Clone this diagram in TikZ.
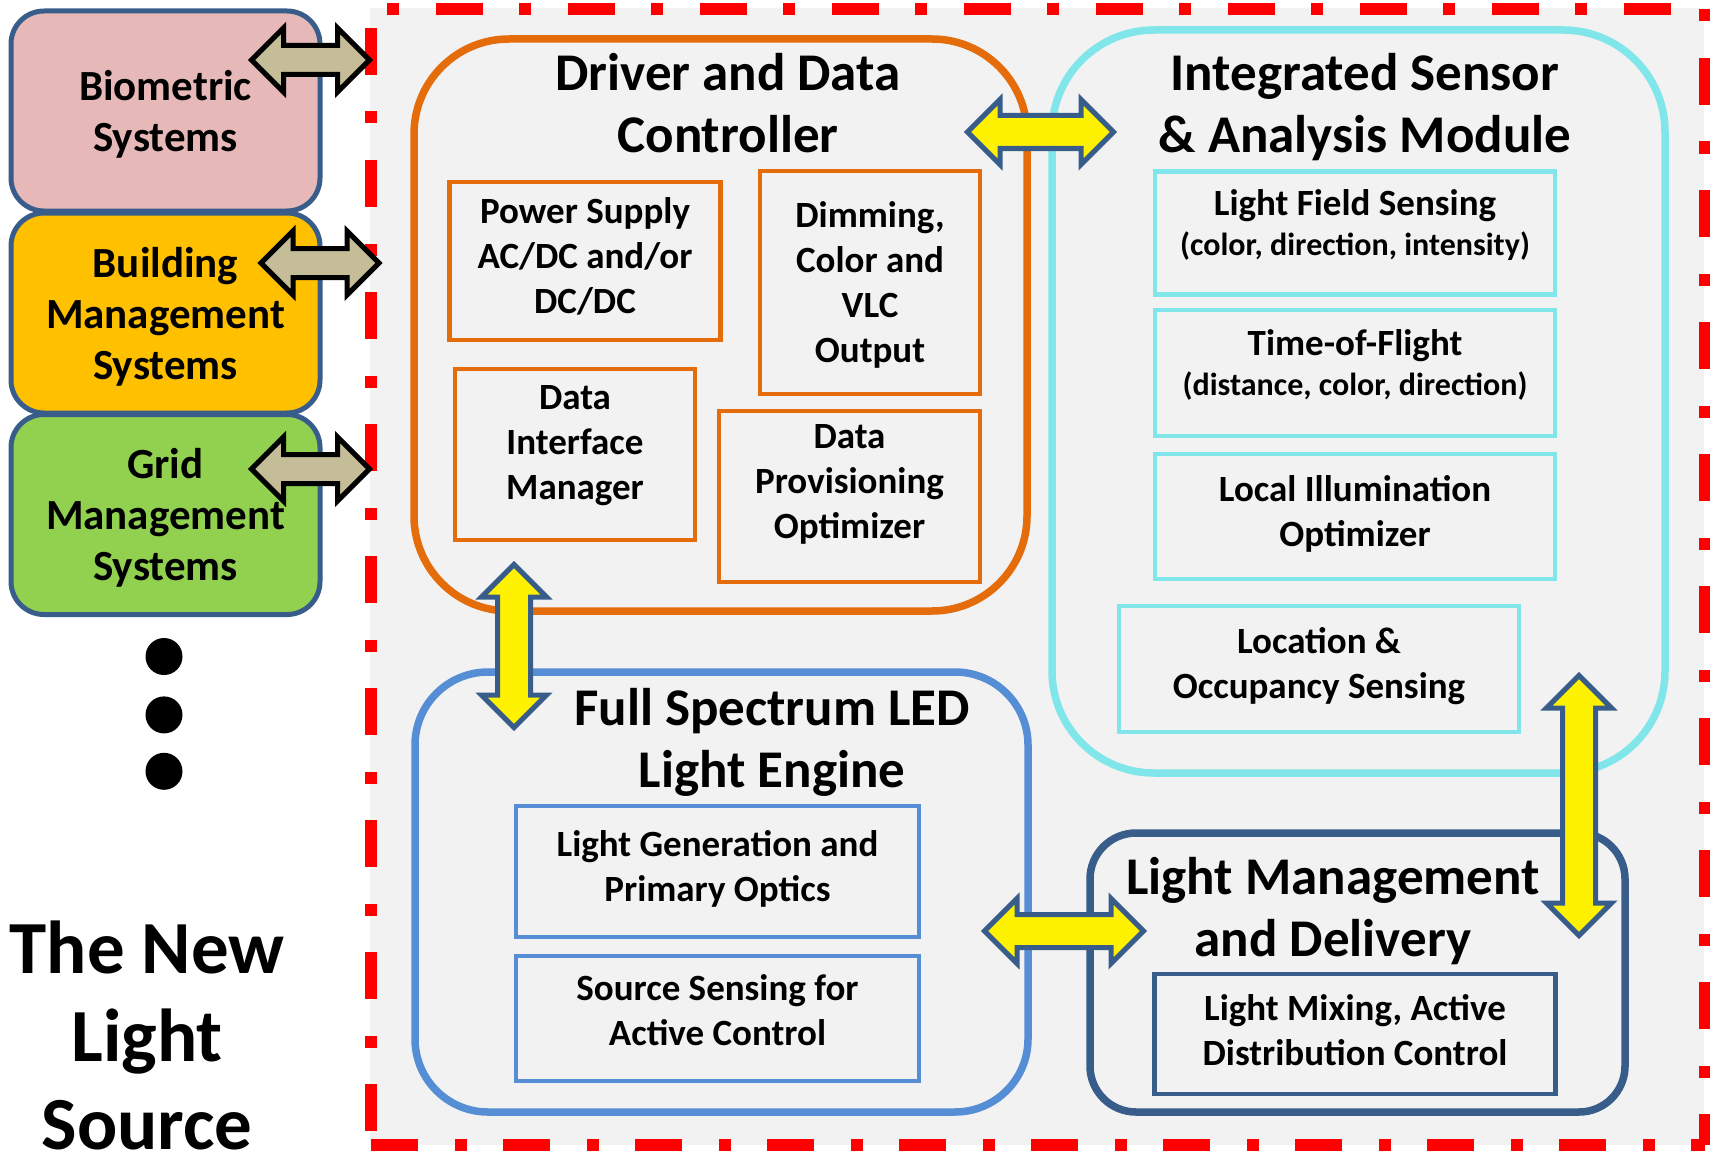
\documentclass[tikz,border=0pt]{standalone}
\usepackage{fontspec}
\setmainfont{Carlito}
\usepackage{tikz}
\usetikzlibrary{arrows,positioning,shapes}

\definecolor{drvorange}{HTML}{E46C0A}
\definecolor{sencyan}{HTML}{80E6EA}
\definecolor{ledblue}{HTML}{558ED5}
\definecolor{navy}{HTML}{385D8A}
\definecolor{panel}{HTML}{F2F2F2}
\definecolor{khaki}{HTML}{C4BD97}
\definecolor{biopink}{HTML}{E6B9B8}
\definecolor{bmsorange}{HTML}{FFC000}
\definecolor{gmsgreen}{HTML}{92D050}

% smaller second line in the sensing blocks
\newcommand{\subline}[1]{{\fontsize{32}{40}\selectfont #1}}

\begin{document}
\begin{tikzpicture}[x=1pt, y=-1pt,
    every node/.style={font=\bfseries, align=center, inner sep=0pt},
    sys/.style={draw=navy, line width=5pt, rounded corners=33pt,
        minimum width=309pt, minimum height=200pt, text depth=0pt,
        font=\bfseries\fontsize{43}{51}\selectfont},
    dot/.style={circle, fill=black, minimum size=37pt},
    module/.style={line width=7.5pt, fill=panel},
    title/.style={text depth=0pt, font=\bfseries\fontsize{53}{62}\selectfont},
    part/.style={draw, line width=4.5pt, fill=panel,
        font=\bfseries\fontsize{37}{45}\selectfont},
    sense/.style={part, draw=sencyan, minimum width=400pt},
    link/.style={double arrow, double arrow head extend=16pt, minimum width=60pt,
        inner ysep=14pt, line width=5pt, draw=navy, fill=yellow},
    ext/.style={double arrow, double arrow head extend=17.5pt, minimum width=59pt,
        inner ysep=12pt, minimum height=118pt, line width=5pt, draw=black, fill=khaki},
    border/.style={red, line width=12pt,
        dash pattern=on 47pt off 36.5pt on 12pt off 36.5pt}
    ]
\useasboundingbox (0,0) rectangle (1710,1153);

% dash-dotted frame round the light source
\fill[panel] (370,8) rectangle (1704,1145);
\draw[border] (371,1145) -- (1705,1145);
\draw[border, dash phase=67.5pt] (371,9) -- (1705,9);
\draw[border, dash phase=113pt] (371,9) -- (371,1145);
\draw[border, dash phase=83pt] (1705,9) -- (1705,1145);

% outside systems
\node[sys, fill=biopink]   (bio) at (165.5,111)   {Biometric\\Systems};
\node[sys, fill=bmsorange] (bms) at (165.5,313)   {Building\\Management\\Systems};
\node[sys, fill=gmsgreen]  (gms) at (165.5,514.5) {Grid\\Management\\Systems};

\node[dot] (d1) at (164,656.5) {};
\node[dot] (d2) [below=21pt of d1] {};
\node[dot] (d3) [below=19pt of d2] {};

\node[text depth=0pt, font=\bfseries\fontsize{75}{88}\selectfont] (tnls) at (147,1035)
    {The New\\Light\\Source};

\node[ext] (ab1) at (310.5,60)  {};
\node[ext] (ab2) at (320,263)   {};
\node[ext] (ab3) at (310.5,469) {};

% the four modules
\node[module, draw=drvorange, rounded corners=95pt,
    minimum width=613pt, minimum height=572pt] (drv) at (720.5,325) {};
\node[module, draw=sencyan, rounded corners=102pt,
    minimum width=613pt, minimum height=743pt] (sen) at (1358.5,401.5) {};
\node[module, draw=ledblue, rounded corners=73pt,
    minimum width=613pt, minimum height=440pt] (led) at (721.5,892) {};
\node[module, draw=navy, rounded corners=46pt,
    minimum width=535pt, minimum height=279pt] (lmd) at (1357.5,972.5) {};

\node[title] (drvt) at (728,103)  {Driver and Data\\Controller};
\node[title] (sent) at (1365,103) {Integrated Sensor\\\& Analysis Module};
\node[title] (ledt) at (772,738)  {Full Spectrum LED\\Light Engine};
\node[title] (lmdt) at (1333,907) {Light Management\\and Delivery};

% driver blocks
\node[part, draw=drvorange, minimum width=271pt, minimum height=158pt, text depth=11pt]
    (psu) at (585,261) {Power Supply\\AC/DC and/or\\DC/DC};
\node[part, draw=drvorange, minimum width=220pt, minimum height=223pt, text depth=0pt]
    (dim) at (870,282.5) {Dimming,\\Color and\\VLC\\Output};
\node[part, draw=drvorange, minimum width=240pt, minimum height=171pt, text depth=24pt]
    (dif) at (575,454.5) {Data\\Interface\\Manager};
\node[part, draw=drvorange, minimum width=261pt, minimum height=171pt, text depth=31pt]
    (dpo) at (849.5,496.5) {Data\\Provisioning\\Optimizer};

% sensor blocks
\node[sense, minimum height=123pt, text depth=21pt] (lfs) at (1355,233)
    {Light Field Sensing\\[-5pt]\subline{(color, direction, intensity)}};
\node[sense, minimum height=126pt, text depth=20pt] (tof) at (1355,373)
    {Time-of-Flight\\[-5pt]\subline{(distance, color, direction)}};
\node[sense, minimum height=125pt, text depth=12pt] (lio) at (1355,516.5)
    {Local Illumination\\Optimizer};
\node[sense, minimum height=126pt, text depth=13pt] (loc) at (1319,669)
    {Location \&\\Occupancy Sensing};

% light engine and delivery blocks
\node[part, draw=ledblue, minimum width=403pt, minimum height=131pt, text depth=12pt]
    (lgp) at (717.5,871.5) {Light Generation and\\Primary Optics};
\node[part, draw=ledblue, minimum width=403pt, minimum height=125pt, text depth=16pt]
    (ssc) at (717.5,1018.5) {Source Sensing for\\Active Control};
\node[part, draw=navy, minimum width=401pt, minimum height=120pt, text depth=8pt]
    (lmx) at (1355,1034) {Light Mixing, Active\\Distribution Control};

% links between modules
\node[link, minimum height=146pt] (ya1) at (1040.5,132) {};
\node[link, minimum height=163pt, rotate=90] (ya2) at (514,646) {};
\node[link, minimum height=260pt, rotate=90] (ya3) at (1579,805.5) {};
\node[link, minimum height=159pt] (ya4) at (1064,931) {};
\end{tikzpicture}
\end{document}
